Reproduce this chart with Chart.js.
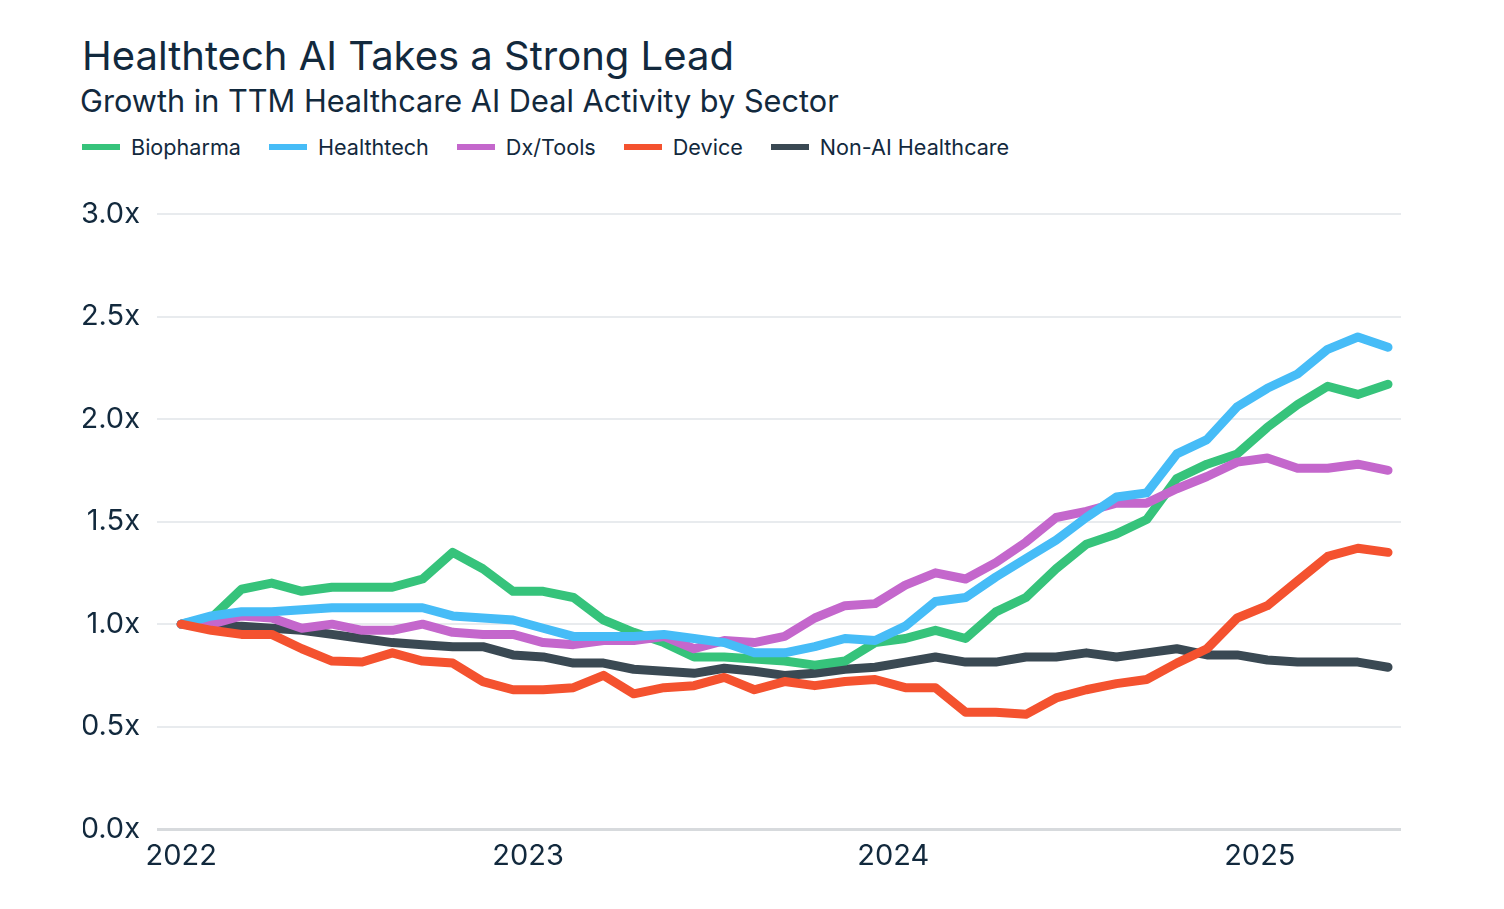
<!DOCTYPE html>
<html>
<head>
<meta charset="utf-8">
<script src="https://cdn.jsdelivr.net/npm/chart.js@4.4.1/dist/chart.umd.min.js"></script>
<style>
    html, body { margin: 0; padding: 0; background: #fff; }
    body { width: 1504px; height: 909px; position: relative; overflow: hidden; font-family: Inter, 'Noto Sans', sans-serif; color: #12293d; }
    #title { position: absolute; left: 82px; top: 36px; font-size: 40px; line-height: 40px; white-space: nowrap; }
    #subtitle { position: absolute; left: 80px; top: 86px; font-size: 30.7px; line-height: 30px; white-space: nowrap; }
    #legend { position: absolute; left: 82px; top: 134px; height: 26px; display: flex; align-items: center; font-size: 21.6px; }
    .item { display: flex; align-items: center; margin-right: 28px; }
    .swatch { width: 38px; height: 6px; margin-right: 11px; }
    #chart { position: absolute; left: 0; top: 0; }
</style>
</head>
<body>
<div id="title">Healthtech AI Takes a Strong Lead</div>
<div id="subtitle">Growth in TTM Healthcare AI Deal Activity by Sector</div>
<div id="legend"></div>
<canvas id="chart" width="1504" height="909"></canvas>
<script>
// Monthly TTM deal activity, indexed to the first month (1.0x)
const biopharma = [1.00, 1.03, 1.17, 1.20, 1.16, 1.18, 1.18, 1.18, 1.22, 1.35, 1.27, 1.16, 1.16, 1.13, 1.02, 0.96, 0.91, 0.84, 0.84, 0.83, 0.82, 0.80, 0.82, 0.91, 0.93, 0.97, 0.93, 1.06, 1.13, 1.27, 1.39, 1.44, 1.51, 1.71, 1.78, 1.83, 1.96, 2.07, 2.16, 2.12, 2.17];
const healthtech = [1.00, 1.04, 1.06, 1.06, 1.07, 1.08, 1.08, 1.08, 1.08, 1.04, 1.03, 1.02, 0.98, 0.94, 0.94, 0.94, 0.95, 0.93, 0.91, 0.86, 0.86, 0.89, 0.93, 0.92, 0.99, 1.11, 1.13, 1.23, 1.32, 1.41, 1.52, 1.62, 1.64, 1.83, 1.90, 2.06, 2.15, 2.22, 2.34, 2.40, 2.35];
const dxTools = [1.00, 1.00, 1.04, 1.03, 0.98, 1.00, 0.97, 0.97, 1.00, 0.96, 0.95, 0.95, 0.91, 0.90, 0.92, 0.92, 0.94, 0.88, 0.92, 0.91, 0.94, 1.03, 1.09, 1.10, 1.19, 1.25, 1.22, 1.30, 1.40, 1.52, 1.55, 1.59, 1.59, 1.66, 1.72, 1.79, 1.81, 1.76, 1.76, 1.78, 1.75];
const device = [1.00, 0.97, 0.95, 0.95, 0.88, 0.82, 0.815, 0.86, 0.82, 0.81, 0.72, 0.68, 0.68, 0.69, 0.75, 0.66, 0.69, 0.70, 0.74, 0.68, 0.72, 0.70, 0.72, 0.73, 0.69, 0.69, 0.57, 0.57, 0.56, 0.64, 0.68, 0.71, 0.73, 0.81, 0.88, 1.03, 1.09, 1.21, 1.33, 1.37, 1.35];
const nonAI = [1.00, 0.985, 0.99, 0.98, 0.97, 0.95, 0.93, 0.91, 0.90, 0.89, 0.89, 0.85, 0.84, 0.81, 0.81, 0.78, 0.77, 0.76, 0.785, 0.77, 0.75, 0.76, 0.78, 0.79, 0.815, 0.84, 0.815, 0.815, 0.84, 0.84, 0.86, 0.84, 0.86, 0.88, 0.85, 0.85, 0.825, 0.815, 0.815, 0.815, 0.79];

// Year labels and where they fall, in months after the first observation
const yearLabels = ['2022', '2023', '2024', '2025'];
const yearTickAt = [0, 11.5, 23.6, 35.75];

const yTicks = [0, 0.5, 1, 1.5, 2, 2.5, 3];

const series = [
    { label: 'Biopharma', data: biopharma, color: '#36c37b', order: 3 },
    { label: 'Healthtech', data: healthtech, color: '#46bcf7', order: 1 },
    { label: 'Dx/Tools', data: dxTools, color: '#c467cc', order: 2 },
    { label: 'Device', data: device, color: '#f4522f', order: 0 },
    { label: 'Non-AI Healthcare', data: nonAI, color: '#3a4953', order: 4 }
];

const FONT = 'Inter, "Noto Sans", sans-serif';
const TEXT = '#12293d';

// HTML legend
document.getElementById('legend').innerHTML = series.map(s => `
    <div class="item"><div class="swatch" style="background:${s.color}"></div><span>${s.label}</span></div>
`).join('');

new Chart(document.getElementById('chart').getContext('2d'), {
    type: 'line',
    data: {
        datasets: series.map(s => ({
            label: s.label,
            data: s.data.map((v, i) => ({ x: i, y: v })),
            borderColor: s.color,
            borderWidth: 9,
            borderCapStyle: 'round',
            borderJoinStyle: 'round',
            pointRadius: 0,
            tension: 0,
            fill: false,
            order: s.order
        }))
    },
    options: {
        responsive: false,
        animation: false,
        layout: { padding: { left: 83, right: 103, top: 214, bottom: 25 } },
        scales: {
            x: {
                type: 'linear',
                min: -0.8,
                max: 40.43,
                afterBuildTicks: scale => { scale.ticks = yearTickAt.map(v => ({ value: v })); },
                afterFit: scale => { scale.paddingLeft = 0; scale.paddingRight = 0; },
                ticks: {
                    autoSkip: false,
                    maxRotation: 0,
                    padding: 10,
                    color: TEXT,
                    font: { family: FONT, size: 29 },
                    callback: (v, i) => yearLabels[i]
                },
                grid: { display: false, drawTicks: false },
                border: { display: false }
            },
            y: {
                min: 0,
                max: 3,
                afterBuildTicks: scale => { scale.ticks = yTicks.map(v => ({ value: v })); },
                afterFit: scale => { scale.width = 74; },
                ticks: {
                    padding: 17,
                    color: TEXT,
                    font: { family: FONT, size: 29 },
                    callback: v => v.toFixed(1) + 'x'
                },
                grid: {
                    drawTicks: false,
                    color: c => c.tick && c.tick.value === 0 ? '#d7dadd' : '#e8ebee',
                    lineWidth: c => c.tick && c.tick.value === 0 ? 3 : 2
                },
                border: { display: false }
            }
        },
        plugins: {
            legend: { display: false },
            tooltip: { enabled: false }
        }
    }
});
</script>
</body>
</html>
